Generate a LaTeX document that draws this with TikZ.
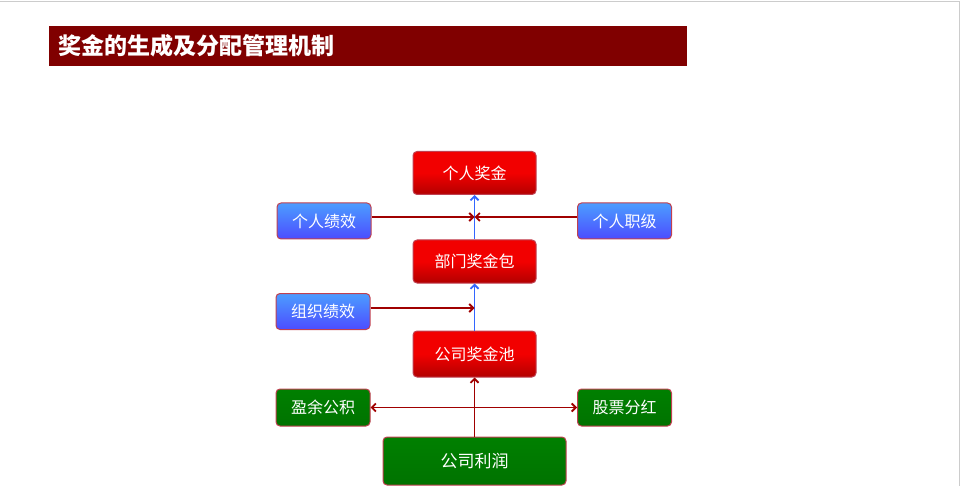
\documentclass[tikz,border=0pt]{standalone}
\usepackage{fontspec}
\newfontfamily\cjk{Noto Sans CJK SC}
\usetikzlibrary{arrows.meta}
\definecolor{dred}{HTML}{800000}
\definecolor{lnred}{HTML}{A00000}
\definecolor{lnblue}{HTML}{3366FF}
\definecolor{bord}{HTML}{C04050}
\tikzset{
 box/.style={draw=bord, line width=1pt, rounded corners=4pt, text=white, font=\cjk\fontsize{16}{16}\selectfont, inner sep=0pt},
 rbox/.style={box, top color=red!95!black, bottom color=red!70!black, middle color=red!95!black, minimum width=123pt, minimum height=43pt},
 bbox/.style={box, top color=blue!55!cyan!70!white, bottom color=blue!70!white, minimum width=94pt, minimum height=36pt},
 gbox/.style={box, top color=green!50!black, bottom color=green!45!black, minimum width=94pt, minimum height=37pt},
 ra/.style={draw=lnred, line width=1.8pt, -{Straight Barb[length=4pt,width=8pt]}},
 ba/.style={draw=lnblue, line width=1.8pt, -{Straight Barb[length=4pt,width=8pt]}},
}
\begin{document}
\begin{tikzpicture}[x=1pt,y=-1pt]
\useasboundingbox (0,0) rectangle (960,486);
\draw[gray!40] (0,1) -- (959,1) -- (959,486);
\fill[dred] (49,26) rectangle (687,66);
\node[anchor=west, text=white, font=\cjk\bfseries\fontsize{23}{23}\selectfont] (title) at (55,46) {奖金的生成及分配管理机制};
\node[rbox] (grjj) at (474.5,173) {个人奖金};
\node[bbox] (grjx) at (324,221) {个人绩效};
\node[bbox] (grzj) at (624.5,221) {个人职级};
\node[rbox] (bmjjb) at (474.5,261.5) {部门奖金包};
\node[bbox] (zzjx) at (323,311.5) {组织绩效};
\node[rbox, minimum height=46pt] (gsjjc) at (474.5,354) {公司奖金池};
\node[gbox] (yygj) at (323,407.5) {盈余公积};
\node[gbox] (gpfh) at (624.5,407.5) {股票分红};
\node[gbox, minimum width=183pt, minimum height=48pt, font=\cjk\fontsize{17}{17}\selectfont] (gslr) at (474.5,461) {公司利润};
\coordinate (m1) at (474.5,217);
\coordinate (m2) at (474.5,308);
\draw[ba] (bmjjb.north) -- (grjj.south);
\draw[ra] (grjx.east |- m1) -- (m1);
\draw[ra] (grzj.west |- m1) -- (m1);
\draw[ba] (gsjjc.north) -- (bmjjb.south);
\draw[ra] (zzjx.east |- m2) -- (m2);
\draw[ra] (gslr.north) -- (gsjjc.south);
\draw[ra, {Straight Barb[length=4pt,width=8pt]}-{Straight Barb[length=4pt,width=8pt]}] (yygj.east) -- (gpfh.west);
\end{tikzpicture}
\end{document}
